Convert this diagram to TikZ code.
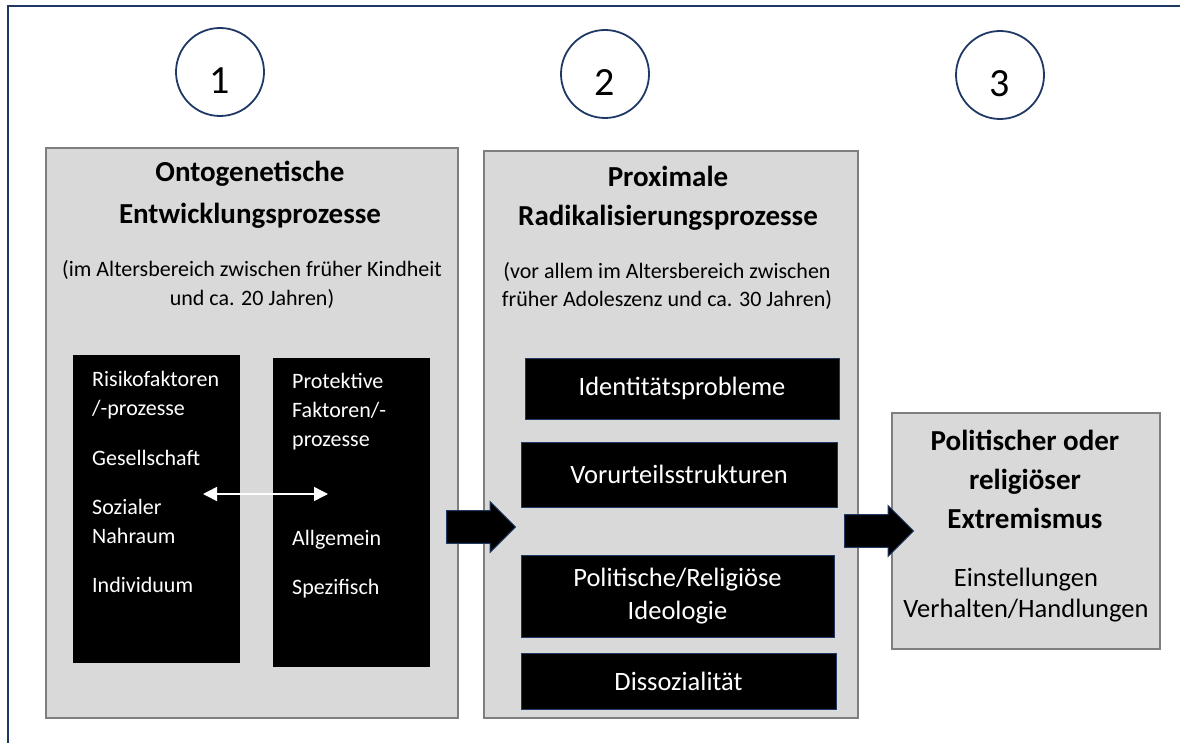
\documentclass[tikz,border=0pt]{standalone}
\usepackage{fontspec}
\setmainfont{Carlito}
\usepackage{tikz}
\usetikzlibrary{arrows.meta}
\usetikzlibrary{positioning}
\usetikzlibrary{shapes.arrows}

\definecolor{navy}{HTML}{1F3864}
\definecolor{boxfill}{HTML}{D9D9D9}
\definecolor{boxline}{HTML}{7F7F7F}

\begin{document}
\begin{tikzpicture}[x=1pt,y=-1pt,
  greybox/.style={draw=boxline, fill=boxfill, line width=1.2pt, inner sep=0pt},
  factorbox/.style={fill=black, inner sep=0pt},
  themebox/.style={draw=navy, fill=black, line width=1pt, text=white, inner sep=0pt, align=center, font=\fontsize{26.5}{33}\selectfont},
  numcircle/.style={draw=navy, circle, line width=1.8pt, minimum size=88pt, inner sep=0pt, font=\fontsize{40}{48}\selectfont},
  headline/.style={align=center, font=\bfseries\fontsize{29}{40}\selectfont},
  subline/.style={align=center, font=\fontsize{22}{29}\selectfont},
  factor/.style={anchor=west, align=left, text=white, inner sep=0pt, font=\fontsize{22}{29}\selectfont},
  blockarrow/.style={single arrow, draw=navy, fill=black, line width=1pt, inner xsep=0pt, inner ysep=12.5pt, minimum height=69pt, minimum width=51pt, anchor=tail}
]
\useasboundingbox (0,0) rectangle (1180,743);
\draw[navy, line width=2.2pt] (8,743) |- (1180,6);

% numbers
\node[numcircle] (one) at (220,72) {\raisebox{-22pt}[0pt][0pt]{1}};
\node[numcircle] (two) at (605,74) {\raisebox{-22pt}[0pt][0pt]{2}};
\node[numcircle] (three) at (1000,75) {\raisebox{-22pt}[0pt][0pt]{3}};

% stage 1
\node[greybox, minimum width=412pt, minimum height=570pt] (onto) at (252,433) {};
\node[headline, font=\bfseries\fontsize{29}{42}\selectfont] (ontotitle) at (250,195) {Ontogenetische\\Entwicklungsprozesse};
\node[subline] (ontoage) at (252,284) {(im Altersbereich zwischen früher Kindheit\\und ca. 20 Jahren)};
\node[factorbox, minimum width=167pt, minimum height=308pt] (risk) at (156.5,509) {};
\node[factorbox, minimum width=157pt, minimum height=309pt] (protect) at (351.5,512.5) {};
\node[factor] (risk1) at (92,395) {Risikofaktoren\\/-prozesse};
\node[factor] (risk2) at (92,458) {Gesellschaft};
\node[factor] (risk3) at (92,521) {Sozialer\\Nahraum};
\node[factor] (risk4) at (92,585) {Individuum};
\node[factor] (prot1) at (292,412) {Protektive\\Faktoren/-\\prozesse};
\node[factor] (prot2) at (292,540) {Allgemein};
\node[factor] (prot3) at (292,589) {Spezifisch};
\coordinate (mutl) at (203,494);
\coordinate (mutr) at (328,494);
\draw[white, line width=1.5pt, {Triangle[length=14pt,width=14pt]}-{Triangle[length=14pt,width=14pt]}] (mutl) -- (mutr);

% stage 2
\node[greybox, minimum width=374pt, minimum height=567pt] (proxi) at (671,434.5) {};
\node[headline, font=\bfseries\fontsize{29}{39}\selectfont] (proxititle) at (668,198) {Proximale\\Radikalisierungsprozesse};
\node[subline, font=\fontsize{22}{28}\selectfont] (proxiage) at (667,286) {(vor allem im Altersbereich zwischen\\früher Adoleszenz und ca. 30 Jahren)};
\node[themebox, minimum width=314pt, minimum height=61pt] (ident) at (682,388.5) {Identitätsprobleme};
\node[themebox, minimum width=316pt, minimum height=65pt] (vorurt) at (679,474.5) {Vorurteilsstrukturen};
\node[themebox, minimum width=313pt, minimum height=82pt] (ideol) at (677.5,596) {Politische/Religiöse\\Ideologie};
\node[themebox, minimum width=315pt, minimum height=56pt] (dissoz) at (678.5,681) {Dissozialität};

% stage 3
\node[greybox, minimum width=268pt, minimum height=236pt] (extrem) at (1026,531) {};
\node[headline, font=\bfseries\fontsize{29}{39}\selectfont] (extremtitle) at (1025,479) {Politischer oder\\religiöser\\Extremismus};
\node[subline, font=\fontsize{26.5}{31}\selectfont] (extremform) at (1026,595) {Einstellungen\\Verhalten/Handlungen};

% transitions
\node[blockarrow] (ontoproxi) at (446,527) {};
\node[blockarrow] (proxiextrem) at (844,531) {};
\end{tikzpicture}
\end{document}
